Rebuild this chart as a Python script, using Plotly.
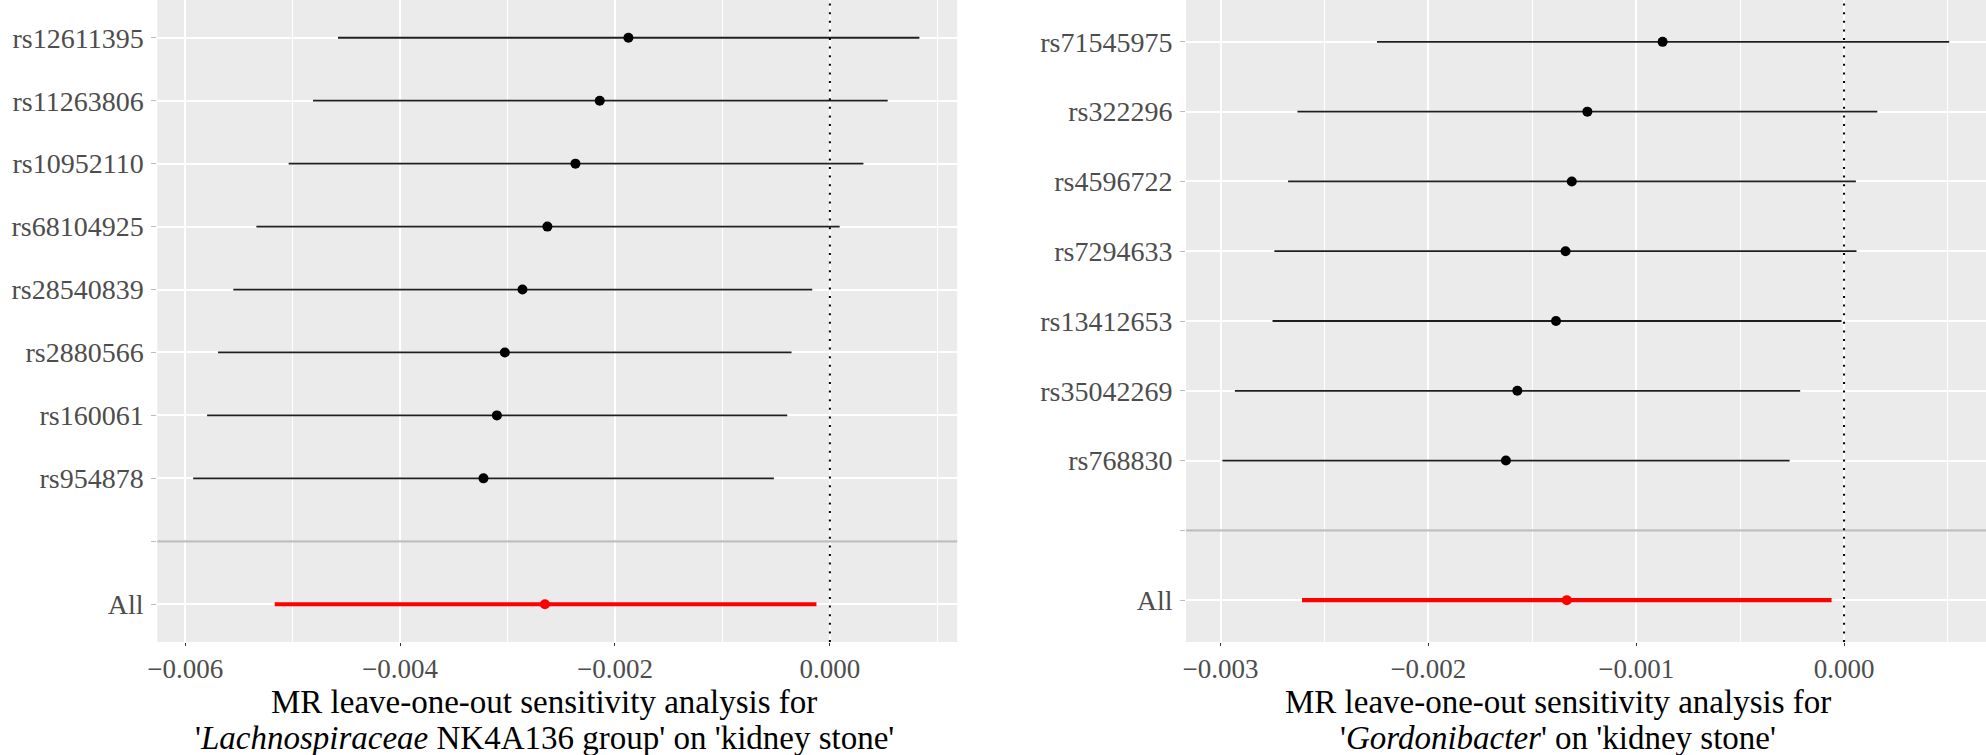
import plotly.graph_objects as go

# ---------------- data ----------------
left_snps = ["rs12611395", "rs11263806", "rs10952110", "rs68104925",
             "rs28540839", "rs2880566", "rs160061", "rs954878"]
left_b = [-0.001875, -0.002142, -0.002368, -0.002629, -0.002861, -0.003025, -0.003099, -0.003224]
left_lo = [-0.004578, -0.004810, -0.005037, -0.005337, -0.005552, -0.005694, -0.005796, -0.005926]
left_hi = [0.000833, 0.000538, 0.000312, 0.000091, -0.000164, -0.000357, -0.000397, -0.000521]
left_all_b, left_all_lo, left_all_hi = -0.002652, -0.005167, -0.000125

right_snps = ["rs71545975", "rs322296", "rs4596722", "rs7294633",
              "rs13412653", "rs35042269", "rs768830"]
right_b = [-0.000873, -0.001235, -0.001310, -0.001340, -0.001386, -0.001572, -0.001627]
right_lo = [-0.002247, -0.002630, -0.002675, -0.002741, -0.002750, -0.002931, -0.002991]
right_hi = [0.000506, 0.000160, 0.000057, 0.000060, -0.000012, -0.000211, -0.000262]
right_all_b, right_all_lo, right_all_hi = -0.001334, -0.002608, -0.000060

all_label = "All"
blank_label = " "

left_ticks = [-0.006, -0.004, -0.002, 0.0]
right_ticks = [-0.003, -0.002, -0.001, 0.0]
left_xrange = [-0.00626, 0.001185]
right_xrange = [-0.003166, 0.000683]

left_title_lines = ["MR leave-one-out sensitivity analysis for",
                    "'<i>Lachnospiraceae</i> NK4A136 group' on 'kidney stone'"]
right_title_lines = ["MR leave-one-out sensitivity analysis for",
                     "'<i>Gordonibacter</i>' on 'kidney stone'"]

# ---------------- style ----------------
FONT = "Liberation Serif"
PANEL_BG = "#EBEBEB"
TICK_COL = "#4D4D4D"
W, H = 1986, 755
PLOT_BOTTOM = 642  # pixel row of the panel bottom

fig = go.Figure()


def add_panel(snps, b, lo, hi, all_b, all_lo, all_hi, xa, ya):
    # individual SNPs
    fig.add_trace(go.Scatter(
        x=b, y=snps, mode="markers", xaxis=xa, yaxis=ya,
        marker=dict(color="black", size=10),
        error_x=dict(type="data", symmetric=False,
                     array=[h - v for h, v in zip(hi, b)],
                     arrayminus=[v - l for v, l in zip(b, lo)],
                     width=0, thickness=1.8, color="#1E1E1E"),
        showlegend=False, hoverinfo="skip"))
    # blank separator category (invisible)
    fig.add_trace(go.Scatter(
        x=[all_b], y=[blank_label], mode="markers", xaxis=xa, yaxis=ya,
        marker=dict(opacity=0, size=1), showlegend=False, hoverinfo="skip"))
    # overall estimate
    fig.add_trace(go.Scatter(
        x=[all_b], y=[all_label], mode="markers", xaxis=xa, yaxis=ya,
        marker=dict(color="#FF0000", size=10),
        error_x=dict(type="data", symmetric=False,
                     array=[all_hi - all_b], arrayminus=[all_b - all_lo],
                     width=0, thickness=4.2, color="#FF0000"),
        showlegend=False, hoverinfo="skip"))


add_panel(left_snps, left_b, left_lo, left_hi,
          left_all_b, left_all_lo, left_all_hi, "x", "y")
add_panel(right_snps, right_b, right_lo, right_hi,
          right_all_b, right_all_lo, right_all_hi, "x2", "y2")

left_cats = [all_label, blank_label] + left_snps[::-1]
right_cats = [all_label, blank_label] + right_snps[::-1]

xcommon = dict(
    showgrid=True, gridcolor="white", gridwidth=2.2, zeroline=False,
    ticks="outside", ticklen=3, tickcolor="#333333", tickwidth=1.1,
    tickfont=dict(family=FONT, size=27, color=TICK_COL),
    tickformat=".3f", showline=False,
)
ycommon = dict(
    type="category", categoryorder="array",
    showgrid=True, gridcolor="white", gridwidth=2.2, zeroline=False,
    ticks="outside", ticklen=5, tickcolor="#BBBBBB", tickwidth=1.1,
    ticklabelstandoff=2,
    tickfont=dict(family=FONT, size=28, color=TICK_COL),
    showline=False,
)

fig.update_layout(
    width=W, height=H,
    margin=dict(l=0, r=0, t=0, b=H - PLOT_BOTTOM),
    paper_bgcolor="white", plot_bgcolor=PANEL_BG,
    xaxis=dict(xcommon, domain=[148 / W, 952 / W], range=left_xrange,
               tickvals=left_ticks, anchor="y",
               minor=dict(dtick=0.001, tick0=0, showgrid=True,
                          gridcolor="white", gridwidth=1.1, ticks="")),
    yaxis=dict(ycommon, domain=[0, 1], categoryarray=left_cats,
               range=[-0.6, len(left_cats) - 0.4], anchor="x"),
    xaxis2=dict(xcommon, domain=[1182 / W, 1.0], range=right_xrange,
                tickvals=right_ticks, anchor="y2",
                minor=dict(dtick=0.0005, tick0=0, showgrid=True,
                           gridcolor="white", gridwidth=1.1, ticks="")),
    yaxis2=dict(ycommon, domain=[0, 1], categoryarray=right_cats,
                range=[-0.6, len(right_cats) - 0.4], anchor="x2"),
)

# separator lines (grey) at the blank category, and dotted zero lines
for xa, ya in (("x", "y"), ("x2", "y2")):
    fig.add_shape(type="line", xref=f"{xa} domain", yref=ya,
                  x0=0, x1=1, y0=1, y1=1,
                  line=dict(color="#BEBEBE", width=2.2), layer="above")
    fig.add_shape(type="line", xref=xa, yref=f"{ya} domain",
                  x0=0, x1=0, y0=0, y1=1,
                  line=dict(color="black", width=2, dash="2px,6.6px"),
                  layer="above")

# axis titles as annotations, one per line
plot_h = PLOT_BOTTOM
for xpix, lines in ((537, left_title_lines), (1556, right_title_lines)):
    for ypix, txt in zip((702, 738), lines):
        fig.add_annotation(
            x=xpix / W, y=-(ypix - PLOT_BOTTOM) / plot_h,
            xref="paper", yref="paper",
            text=txt, showarrow=False, xanchor="center", yanchor="middle",
            align="center", font=dict(family=FONT, size=33, color="black"))

fig.write_html(
    "out.html",
    config={"displayModeBar": False},
    post_script="document.body.style.margin='0px';document.body.style.overflow='hidden';",
)
